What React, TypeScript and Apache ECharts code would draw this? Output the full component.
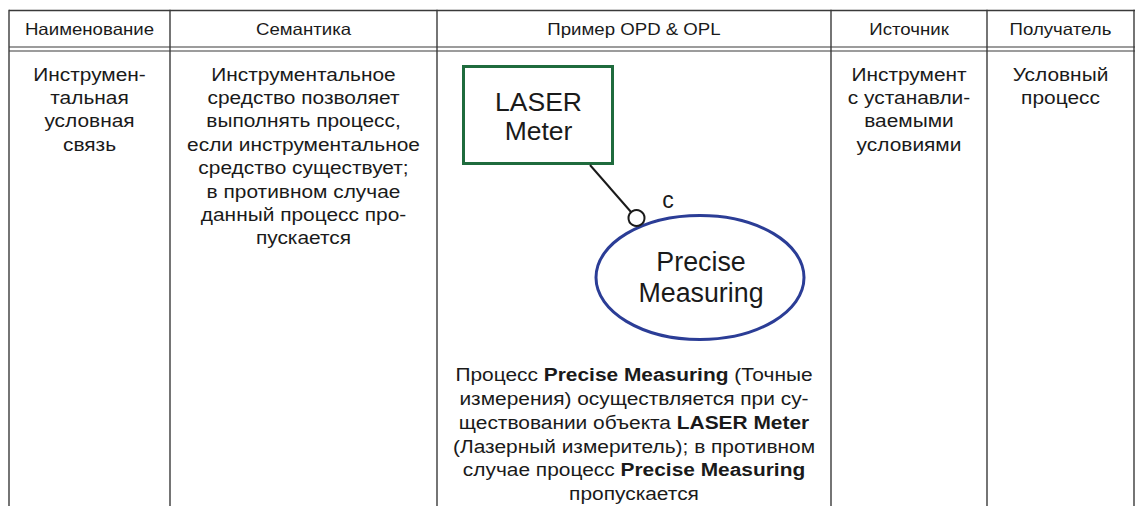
import React, { useEffect, useRef } from "react";
import * as echarts from "echarts";

// ---- content (data) ----
const headers = ["Наименование", "Семантика", "Пример OPD & OPL", "Источник", "Получатель"];
const nameLines = ["Инструмен-", "тальная", "условная", "связь"];
const semanticsLines = [
  "Инструментальное",
  "средство позволяет",
  "выполнять процесс,",
  "если инструментальное",
  "средство существует;",
  "в противном случае",
  "данный процесс про-",
  "пускается",
];
const sourceLines = ["Инструмент", "с устанавли-", "ваемыми", "условиями"];
const targetLines = ["Условный", "процесс"];
const objectLabel = ["LASER", "Meter"];
const processLabel = ["Precise", "Measuring"];
const linkLabel = "c";
const oplLines: [string, boolean][][] = [
  [["Процесс ", false], ["Precise Measuring", true], [" (Точные", false]],
  [["измерения) осуществляется при су-", false]],
  [["ществовании объекта ", false], ["LASER Meter", true]],
  [["(Лазерный измеритель); в противном", false]],
  [["случае процесс ", false], ["Precise Measuring", true]],
  [["пропускается", false]],
];

// ---- layout (style) ----
const colX = [9, 170, 437, 831, 987, 1134];
const FONT = "'Liberation Sans', Arial, Helvetica, sans-serif";
const TEXT_COLOR = "#1a1a1a";
const LINE_COLOR = "#3a3a3a";
const CYR_SCALE = 1.13;

function textLines(lines: string[], cx: number, y0: number, step: number, size: number, scaleX: number) {
  return lines.map((t, i) => ({
    type: "text",
    x: cx,
    y: y0 + i * step,
    scaleX,
    style: {
      text: t,
      fontFamily: FONT,
      fontSize: size,
      fill: TEXT_COLOR,
      textAlign: "center",
      textVerticalAlign: "middle",
    },
  }));
}

export default function App() {
  const ref = useRef<HTMLDivElement>(null);
  useEffect(() => {
    document.body.style.margin = "0";
    const chart = echarts.init(ref.current!, null, { renderer: "svg" });
    const els: any[] = [];

    // table lines
    const top = 10.5;
    const bottom = 506;
    els.push({ type: "line", shape: { x1: colX[0], y1: top, x2: 1135, y2: top }, style: { stroke: LINE_COLOR, lineWidth: 1.4 } });
    els.push({ type: "line", shape: { x1: colX[0], y1: 47, x2: 1135, y2: 47 }, style: { stroke: LINE_COLOR, lineWidth: 1.2 } });
    els.push({ type: "line", shape: { x1: colX[0], y1: 51, x2: 1135, y2: 51 }, style: { stroke: LINE_COLOR, lineWidth: 1.2 } });
    colX.forEach((x) => {
      els.push({ type: "line", shape: { x1: x, y1: top - 0.7, x2: x, y2: bottom }, style: { stroke: LINE_COLOR, lineWidth: 1.4 } });
    });

    // headers
    headers.forEach((h, i) => {
      const cx = (colX[i] + colX[i + 1]) / 2;
      els.push(...textLines([h], cx, 29.5, 0, 16.5, CYR_SCALE));
    });

    // body columns
    const rowStep = 23.4;
    const rowY0 = 74;
    els.push(...textLines(nameLines, (colX[0] + colX[1]) / 2, rowY0, rowStep, 18.5, CYR_SCALE));
    els.push(...textLines(semanticsLines, (colX[1] + colX[2]) / 2, rowY0, rowStep, 18.5, CYR_SCALE));
    els.push(...textLines(sourceLines, (colX[3] + colX[4]) / 2, rowY0, rowStep, 18.5, CYR_SCALE));
    els.push(...textLines(targetLines, (colX[4] + colX[5]) / 2, rowY0, rowStep, 18.5, CYR_SCALE));

    // OPD diagram
    els.push({
      type: "ellipse",
      shape: { cx: 700, cy: 277.5, rx: 104, ry: 62 },
      style: { stroke: "#2b3d96", lineWidth: 3, fill: "#fff" },
    });
    els.push({
      type: "rect",
      shape: { x: 463.5, y: 66.5, width: 149, height: 97 },
      style: { stroke: "#1f6b3d", lineWidth: 3, fill: "#fff" },
    });
    els.push({
      type: "line",
      shape: { x1: 590, y1: 165, x2: 631, y2: 212 },
      style: { stroke: "#1a1a1a", lineWidth: 2 },
    });
    els.push({
      type: "circle",
      shape: { cx: 636.5, cy: 218, r: 8 },
      style: { stroke: "#1a1a1a", lineWidth: 2, fill: "#fff" },
    });
    els.push(...textLines(objectLabel, 538.5, 102, 29, 26.5, 1));
    els.push(...textLines(processLabel, 701, 262, 31, 26.8, 1));
    els.push(...textLines([linkLabel], 668, 200, 0, 23, 1));

    // OPL paragraph
    oplLines.forEach((segs, i) => {
      const text = segs.map(([t, b]) => (b ? `{b|${t}}` : `{n|${t}}`)).join("");
      els.push({
        type: "text",
        x: (colX[2] + colX[3]) / 2,
        y: 374.5 + i * 23.8,
        scaleX: 1.1,
        style: {
          text,
          fontFamily: FONT,
          fontSize: 19,
          fill: TEXT_COLOR,
          textAlign: "center",
          textVerticalAlign: "middle",
          rich: {
            n: { fontFamily: FONT, fontSize: 19, fill: TEXT_COLOR },
            b: { fontFamily: FONT, fontSize: 19, fontWeight: "bold", fill: TEXT_COLOR },
          },
        },
      });
    });

    chart.setOption({
      animation: false,
      backgroundColor: "#ffffff",
      graphic: { elements: els },
    });
    return () => chart.dispose();
  }, []);

  return <div ref={ref} style={{ position: "fixed", left: 0, top: 0, width: 1135, height: 506 }} />;
}
